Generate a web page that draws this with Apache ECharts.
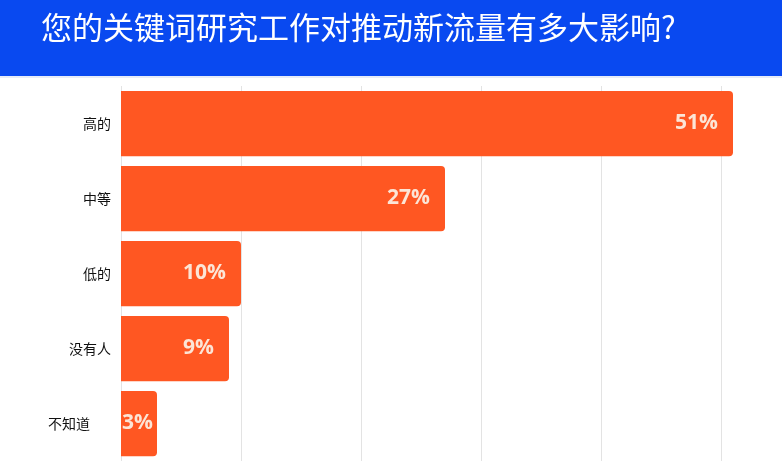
<!DOCTYPE html>
<html>
<head>
<meta charset="utf-8">
<script src="https://cdn.jsdelivr.net/npm/echarts@6/dist/echarts.min.js"></script>
<style>
html,body{margin:0;padding:0;background:#fff;}
#c{width:782px;height:462px;}
</style>
</head>
<body>
<div id="c"></div>
<script>
var titleText = '您的关键词研究工作对推动新流量有多大影响?';
var categories = ['高的', '中等', '低的', '没有人', '不知道'];
var values = [51, 27, 10, 9, 3];
var tickValues = [0, 10, 20, 30, 40, 50];

var chart = echarts.init(document.getElementById('c'), null, {renderer: 'canvas'});

var catData = categories.map(function (c, i) {
  if (i === categories.length - 1) {
    return {value: c, textStyle: {padding: [0, 21, 0, 0]}};
  }
  return c;
});

var barData = values.map(function (v) {
  if (v < 5) {
    return {value: v, label: {position: 'insideLeft', distance: 1}};
  }
  return v;
});

chart.setOption({
  animation: false,
  backgroundColor: '#ffffff',
  graphic: [{
    type: 'rect',
    shape: {x: 0, y: 0, width: 782, height: 76},
    style: {fill: '#0949F0'},
    z: -10
  }, {
    type: 'rect',
    shape: {x: 0, y: 76, width: 782, height: 2},
    style: {fill: '#E6ECF8'},
    z: -10
  }],
  title: {
    text: titleText,
    left: 41,
    top: 12,
    padding: 0,
    textStyle: {
      color: '#ffffff',
      fontSize: 31,
      fontWeight: 'normal',
      fontFamily: 'Noto Sans CJK SC'
    }
  },
  grid: {left: 121, right: 1, top: 86, bottom: 1, containLabel: false},
  xAxis: {
    type: 'value',
    min: tickValues[0],
    max: 55,
    interval: 10,
    axisLabel: {show: false},
    axisLine: {show: false},
    axisTick: {show: false},
    splitLine: {show: true, showMaxLine: false, lineStyle: {color: '#E3E3E3', width: 1}}
  },
  yAxis: {
    type: 'category',
    inverse: true,
    data: catData,
    axisLine: {show: false},
    axisTick: {show: false},
    axisLabel: {
      margin: 10,
      fontSize: 14,
      color: '#111111',
      fontFamily: 'Noto Sans CJK SC'
    }
  },
  series: [{
    type: 'bar',
    data: barData,
    barCategoryGap: '13%',
    itemStyle: {color: '#FF5722', borderRadius: [0, 4, 4, 0]},
    label: {
      show: true,
      position: 'insideRight',
      distance: 15,
      formatter: '{c}%',
      color: '#FCE5D6',
      fontSize: 21,
      fontWeight: 'bold',
      fontFamily: 'Open Sans'
    }
  }]
});
</script>
</body>
</html>
